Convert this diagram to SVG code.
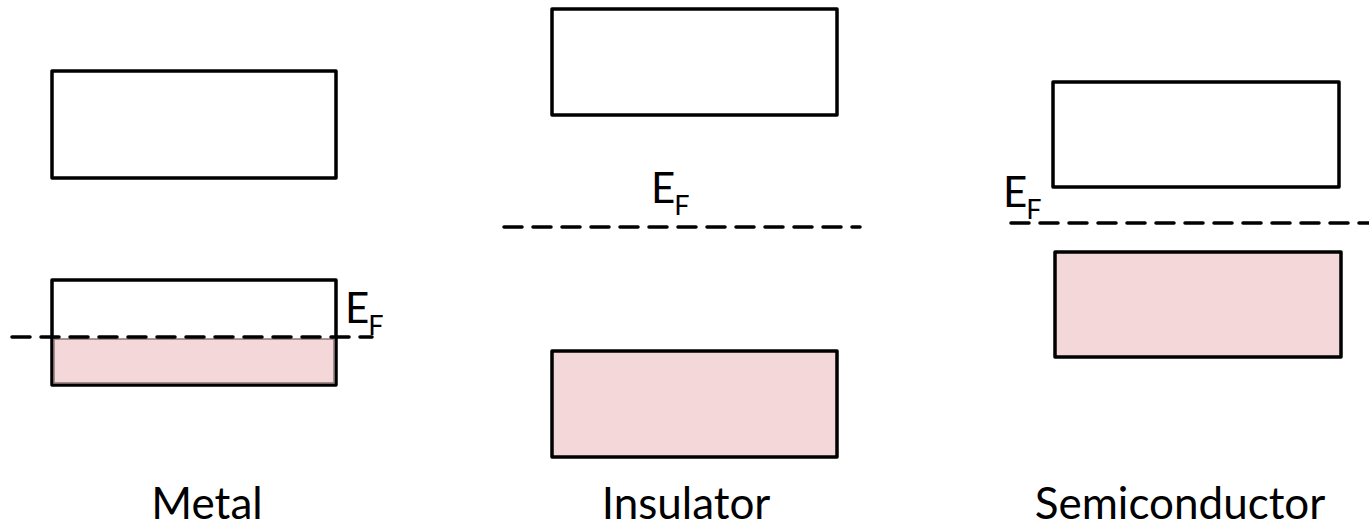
<svg xmlns="http://www.w3.org/2000/svg" width="1369" height="528" viewBox="0 0 1369 528">
<style>
.band{fill:#ffffff;stroke:#000;stroke-width:3.5;stroke-linejoin:round}
.filled{fill:#f4d8d9;stroke:#000;stroke-width:3.5;stroke-linejoin:round}
.ef{fill:none;stroke:#000;stroke-width:3.5;stroke-dasharray:18 11;stroke-linecap:round}
.t{font-family:Lato,"Open Sans","Liberation Sans",sans-serif;fill:#000}
.lbl{font-size:44px;text-anchor:middle}
.e{font-size:42px}
.sub{font-size:27px}
</style>
<rect width="1369" height="528" fill="#fff"/>
<g id="metal">
  <rect class="band" x="52" y="71" width="284" height="107"/>
  <rect class="band" x="52" y="280" width="284" height="105"/>
  <rect x="54" y="339" width="280" height="44" fill="#f4d8d9" stroke="#8a7576" stroke-width="1.5"/>
  <text class="t lbl" x="207" y="519">Metal</text>
</g>
<g id="insulator">
  <rect class="band" x="552" y="9" width="285" height="106"/>
  <rect class="filled" x="552" y="351" width="285" height="106"/>
  <text class="t lbl" x="686" y="519">Insulator</text>
</g>
<g id="semiconductor">
  <rect class="band" x="1053" y="82" width="286" height="105"/>
  <rect class="filled" x="1055" y="252" width="286" height="105"/>
  <text class="t lbl" x="1180" y="519">Semiconductor</text>
</g>
<g id="connectors">
  <line class="ef" x1="12" y1="337" x2="372" y2="337"/>
  <line class="ef" x1="504" y1="227" x2="860" y2="227"/>
  <line class="ef" x1="1011" y1="223" x2="1369" y2="223"/>
</g>
<g id="fermi-labels">
  <text class="t e" x="345" y="323">E<tspan class="sub" dx="-1" dy="12">F</tspan></text>
  <text class="t e" x="651" y="203">E<tspan class="sub" dx="-1" dy="12">F</tspan></text>
  <text class="t e" x="1003" y="207">E<tspan class="sub" dx="-1" dy="12">F</tspan></text>
</g>
</svg>
